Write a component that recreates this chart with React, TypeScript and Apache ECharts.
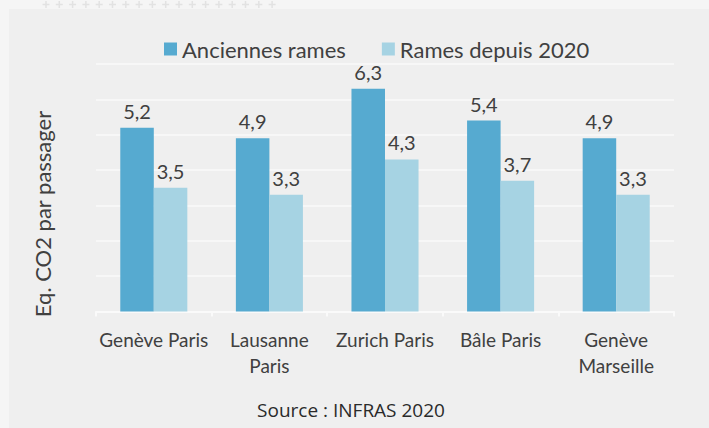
import React, { useEffect, useRef } from "react";
import * as echarts from "echarts";

const categories = ["Genève Paris", "Lausanne\nParis", "Zurich Paris", "Bâle Paris", "Genève\nMarseille"];
const seriesNames = ["Anciennes rames", "Rames depuis 2020"];
const ancienValues = [5.2, 4.9, 6.3, 5.4, 4.9];
const nouveauValues = [3.5, 3.3, 4.3, 3.7, 3.3];
const yAxisTitle = "Eq. CO2 par passager";
const sourceText = "Source : INFRAS 2020";

const FONT = "Lato, 'Open Sans', sans-serif";
const TEXT = "#404040";

export default function App() {
  const ref = useRef<HTMLDivElement>(null);
  useEffect(() => {
    if (!ref.current) return;
    const chart = echarts.init(ref.current, null, { renderer: "svg" });
    const pluses: any[] = [];
    const plusStyle = { stroke: "#e2e2e2", lineWidth: 1.5 };
    for (let i = 0; i < 18; i++) {
      const cx = 46 + i * 13.3;
      const cy = 4.5;
      pluses.push(
        { type: "line", silent: true, shape: { x1: cx - 3.5, y1: cy, x2: cx + 3.5, y2: cy }, style: plusStyle },
        { type: "line", silent: true, shape: { x1: cx, y1: cy - 3.5, x2: cx, y2: cy + 3.5 }, style: plusStyle }
      );
    }
    const fmt = (p: any) => String(p.value).replace(".", ",");
    chart.setOption({
      animation: false,
      backgroundColor: "#f5f5f5",
      textStyle: { fontFamily: FONT },
      graphic: [
        {
          type: "rect",
          shape: { x: 9, y: 9, width: 700, height: 419 },
          style: { fill: "#efefef" },
          silent: true,
          z: -10,
        },
        ...pluses,
        {
          type: "text",
          x: 42,
          y: 214,
          rotation: Math.PI / 2,
          style: { text: yAxisTitle, fill: TEXT, font: "22px " + FONT, align: "center", verticalAlign: "middle" },
        },
        {
          type: "text",
          x: 351,
          y: 410,
          style: { text: sourceText, fill: "#2a2a2a", font: "19px 'Open Sans', sans-serif", align: "center", verticalAlign: "middle" },
        },
      ],
      legend: {
        top: 33,
        left: 159,
        itemWidth: 13,
        itemHeight: 13,
        itemGap: 36,
        icon: "rect",
        textStyle: { fontSize: 22, color: TEXT, fontFamily: FONT },
        data: seriesNames,
      },
      grid: { left: 96, right: 35, top: 64, bottom: 116.5 },
      xAxis: {
        type: "category",
        data: categories,
        axisLine: { lineStyle: { color: "#fafafa", width: 2 } },
        axisTick: { show: true, length: 5, lineStyle: { color: "#fafafa", width: 2 } },
        axisLabel: { color: TEXT, fontSize: 19, lineHeight: 26, margin: 15, interval: 0, fontFamily: FONT },
      },
      yAxis: {
        type: "value",
        min: 0,
        max: 7,
        interval: 1,
        axisLabel: { show: false },
        axisLine: { show: false },
        axisTick: { show: false },
        splitLine: { lineStyle: { color: "#fafafa", width: 1.5 } },
      },
      series: [
        {
          name: seriesNames[0],
          type: "bar",
          data: ancienValues,
          barGap: "0%",
          barCategoryGap: "42%",
          itemStyle: { color: "#56aad0" },
          label: { show: true, position: "top", distance: 7, formatter: fmt, fontSize: 20, color: TEXT, fontFamily: FONT },
        },
        {
          name: seriesNames[1],
          type: "bar",
          data: nouveauValues,
          barGap: "0%",
          barCategoryGap: "42%",
          itemStyle: { color: "#a6d3e3" },
          label: { show: true, position: "top", distance: 7, formatter: fmt, fontSize: 20, color: TEXT, fontFamily: FONT },
        },
      ],
    });
    return () => chart.dispose();
  }, []);
  return <div ref={ref} style={{ position: "absolute", left: 0, top: 0, width: 709, height: 428 }} />;
}
